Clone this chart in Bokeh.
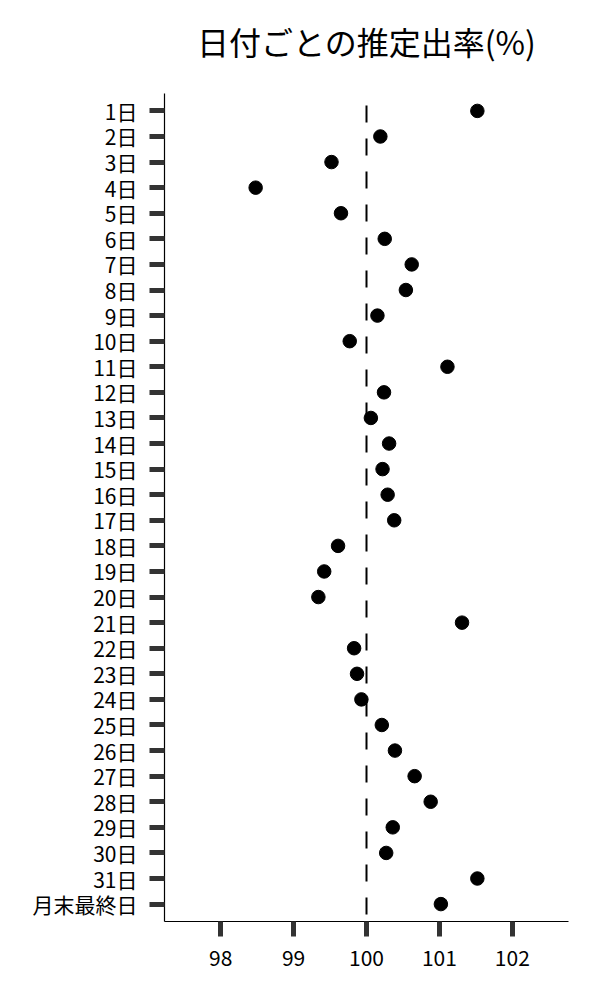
from bokeh.plotting import figure
from bokeh.models import FactorRange, Range1d, FixedTicker, Span, ColumnDataSource, Title
from bokeh.embed import file_html
from bokeh.resources import INLINE

days = [f"{i}日" for i in range(1, 32)] + ["月末最終日"]
rates = [101.52, 100.19, 99.52, 98.48, 99.65, 100.25, 100.62, 100.54, 100.15, 99.77,
         101.11, 100.24, 100.06, 100.31, 100.22, 100.29, 100.38, 99.61, 99.42, 99.34,
         101.31, 99.83, 99.87, 99.93, 100.21, 100.39, 100.66, 100.88, 100.36, 100.27,
         101.52, 101.02]
x_ticks = [98, 99, 100, 101, 102]
reference = 100
title_text = "日付ごとの推定出率(%)"

FONT = "Noto Sans CJK JP"

src = ColumnDataSource(dict(day=days, rate=rates))

p = figure(
    width=592, height=990,
    y_range=FactorRange(factors=list(reversed(days)), range_padding=0.18,
                        range_padding_units="absolute"),
    x_range=Range1d(97.23, 102.77),
    output_backend="svg", toolbar_location=None,
    min_border_left=164, min_border_right=24, min_border_top=93, min_border_bottom=69,
)
p.title.text = ""

main_title = Title(text=title_text, text_font=FONT, text_font_size="32px",
                   text_font_style="normal", align="center", text_color="black",
                   standoff=28)
spacer = Title(text=" ", text_font_size="1px", standoff=13)
p.add_layout(spacer, "above")
p.add_layout(main_title, "above")

p.outline_line_color = None
p.xgrid.grid_line_color = None
p.ygrid.grid_line_color = None
p.background_fill_color = "white"
p.border_fill_color = "white"

p.add_layout(Span(location=reference, dimension="height", line_color="black",
                  line_width=2, line_dash="17 16", line_dash_offset=21))

p.scatter(x="rate", y="day", source=src, size=13.5, color="black")

for ax in (p.xaxis[0], p.yaxis[0]):
    ax.axis_line_color = "black"
    ax.axis_line_width = 1.2
    ax.major_tick_line_color = "#333333"
    ax.major_tick_line_width = 5
    ax.major_tick_in = 0
    ax.major_tick_out = 15
    ax.minor_tick_line_color = None
    ax.major_label_text_font = FONT
    ax.major_label_text_font_size = "21px"
    ax.major_label_text_color = "black"

p.xaxis[0].ticker = FixedTicker(ticks=x_ticks)
p.xaxis[0].major_label_standoff = 13
p.yaxis[0].major_label_standoff = 12

open("out.html", "w").write(file_html(p, INLINE))
